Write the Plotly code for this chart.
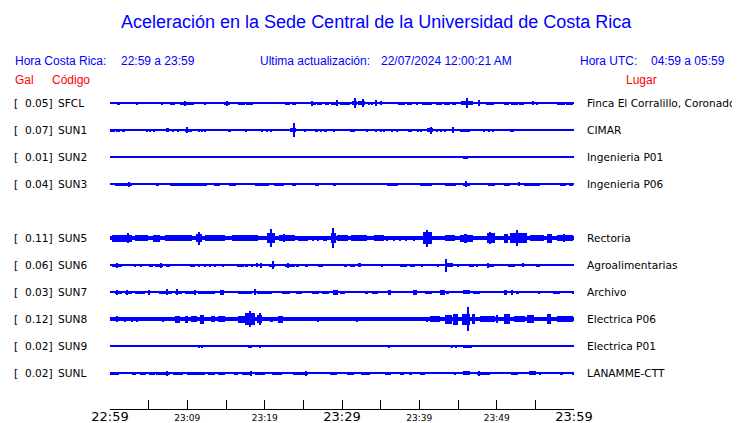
import plotly.graph_objects as go

# ---------------- data ----------------
CODES = ["SFCL", "SUN1", "SUN2", "SUN3", "SUN5", "SUN6", "SUN7", "SUN8", "SUN9", "SUNL"]
PEAK_GAL = ["0.05", "0.07", "0.01", "0.04", "0.11", "0.06", "0.03", "0.12", "0.02", "0.02"]
PLACES = ["Finca El Corralillo, Coronado", "CIMAR", "Ingenieria P01", "Ingenieria P06",
          "Rectoria", "Agroalimentarias", "Archivo", "Electrica P06", "Electrica P01", "LANAMME-CTT"]
SLOTS = [0, 1, 2, 3, 5, 6, 7, 8, 9, 10]
# background noise half-amplitude (relative units)
BACKGROUND = [0.6, 0.6, 0.6, 0.6, 2.3, 0.6, 0.6, 2.1, 0.6, 0.6]

# bursts: (start minute, end minute, half amplitude) read from the record
SFCL = [(0.9, 1.3, 1.5), (3.4, 3.5, 1.5), (4.3, 4.4, 1), (5.1, 5.2, 1), (6.6, 6.9, 1.5),
        (7.8, 8.4, 1.5), (8.6, 9.0, 1), (9.1, 10.8, 1.5), (9.6, 9.8, 2.5), (12.2, 12.4, 1.5),
        (14.8, 15.5, 1.5), (15.0, 15.2, 2.5), (16.0, 16.1, 1), (16.6, 17.4, 1.5), (17.6, 18.5, 1.5),
        (19.2, 19.3, 1.2), (19.8, 19.9, 1.2), (20.5, 20.6, 1), (22.6, 23.3, 1.5), (23.5, 24.1, 1.5),
        (25.0, 25.1, 1), (26.0, 26.6, 1.5), (26.8, 27.4, 1.5), (26.1, 26.2, 2.5), (27.8, 28.3, 1.5),
        (28.6, 29.5, 1.5), (29.3, 29.5, 3), (29.7, 31.0, 1.5), (31.3, 32.0, 2), (31.5, 31.8, 5),
        (32.1, 33.0, 2), (32.6, 32.8, 4), (33.4, 33.5, 1.5), (33.8, 33.9, 1.5), (34.3, 34.5, 3),
        (35.0, 35.2, 2), (35.8, 35.9, 1), (36.6, 36.7, 1), (37.3, 38.2, 1.5), (38.4, 39.0, 1.5),
        (39.6, 39.8, 1.5), (40.3, 41.6, 1.5), (42.2, 42.9, 1.5), (43.2, 44.0, 1.5), (44.2, 44.8, 1.5),
        (45.4, 47.0, 2), (46.0, 46.3, 5), (47.7, 47.9, 3), (48.6, 49.6, 1.5), (50.0, 50.1, 1),
        (50.9, 51.6, 1.5), (51.9, 52.7, 1.5), (52.9, 53.5, 1.5), (54.6, 54.8, 2), (55.2, 55.3, 1.5),
        (57.8, 58.8, 1.5), (59.0, 59.9, 1.5)]
SUN1 = [(0.0, 0.6, 1.5), (0.8, 1.3, 1.5), (1.6, 2.0, 1.5), (3.6, 3.7, 1), (4.7, 4.8, 1.5),
        (5.1, 5.2, 1.5), (5.7, 5.8, 1.5), (7.3, 7.6, 2), (8.1, 8.2, 1.5), (8.8, 8.9, 1.5),
        (9.7, 10.6, 1.5), (9.9, 10.0, 3), (11.4, 11.5, 1.5), (11.9, 12.0, 1.5), (12.2, 12.3, 1.5),
        (13.0, 13.1, 1), (13.6, 13.7, 1), (14.2, 14.3, 1), (15.3, 15.6, 1.5), (16.8, 16.9, 1),
        (17.5, 17.6, 1.5), (18.9, 19.0, 1), (19.6, 19.7, 1.5), (20.2, 20.3, 1.5), (20.8, 20.9, 1.5),
        (21.7, 21.8, 1), (22.4, 22.5, 1), (22.8, 22.9, 1), (23.3, 24.0, 2), (23.7, 23.8, 7),
        (24.5, 24.6, 1), (25.2, 25.3, 1.5), (25.9, 26.0, 1), (26.5, 26.9, 1.5), (27.2, 27.3, 1.5),
        (27.7, 28.0, 1.5), (28.9, 29.0, 1.5), (29.7, 30.2, 1), (31.0, 31.7, 1.5), (32.3, 32.4, 1),
        (33.2, 33.3, 1.5), (34.4, 34.5, 1.5), (35.0, 35.1, 1.5), (35.4, 35.5, 1.5), (36.4, 36.5, 1.5),
        (37.1, 37.3, 1.5), (38.6, 38.7, 1.5), (38.9, 39.0, 1.5), (39.8, 39.9, 1.5), (40.2, 40.3, 1.5),
        (41.0, 41.8, 2), (41.4, 41.6, 3.5), (42.2, 42.3, 1.5), (42.7, 42.8, 1.5), (43.3, 43.5, 1.5),
        (44.3, 44.4, 3), (45.3, 46.5, 1.5), (47.4, 47.5, 1), (48.3, 48.4, 1.5), (48.9, 49.0, 1.5),
        (49.5, 49.6, 1.5), (50.9, 51.0, 1), (51.7, 52.2, 1.5), (53.2, 53.3, 1), (55.4, 55.5, 1),
        (57.3, 57.4, 1), (59.5, 59.6, 1)]
SUN2 = [(45.7, 46.3, 1.5)]
SUN3 = [(0.0, 0.5, 1.2), (0.7, 2.8, 1.5), (2.4, 2.6, 2.5), (3.2, 3.3, 1.2), (3.8, 3.9, 1.2),
        (4.5, 4.6, 1.2), (5.2, 5.3, 1.2), (5.7, 5.8, 1.2), (6.0, 6.4, 1.5), (6.9, 7.0, 1),
        (7.4, 7.5, 1), (7.8, 12.5, 1.5), (13.5, 14.2, 1.5), (15.4, 16.3, 1.5), (17.5, 17.6, 1),
        (18.7, 20.5, 1.5), (21.2, 22.5, 1.5), (23.5, 24.0, 1.5), (25.3, 25.4, 1), (26.5, 27.0, 1.5),
        (28.9, 29.2, 1.5), (29.9, 30.0, 1), (30.4, 30.5, 1), (31.0, 31.1, 1), (31.5, 31.6, 1),
        (32.2, 32.3, 1), (34.3, 34.4, 1), (35.8, 37.3, 1.5), (40.1, 41.6, 1.5), (42.2, 42.3, 1),
        (43.3, 44.8, 1.5), (45.6, 46.5, 1.5), (46.0, 46.2, 3), (46.7, 47.8, 1.2), (48.9, 49.8, 1.5),
        (50.4, 50.5, 1), (50.9, 51.7, 1.5), (52.9, 53.0, 2), (53.5, 55.6, 1.5), (56.6, 56.7, 1),
        (58.2, 59.0, 1.5), (59.3, 59.9, 1.5)]
SUN5 = [(0.2, 2.8, 3.5), (2.3, 2.5, 5), (3.2, 4.9, 3), (5.6, 6.5, 3.5), (7.1, 10.6, 3),
        (11.1, 11.9, 4), (11.4, 11.6, 6.5), (12.3, 14.9, 3), (15.8, 19.2, 3), (20.3, 21.3, 5),
        (20.8, 21.0, 9), (21.8, 23.9, 3), (22.4, 22.6, 4), (24.3, 25.6, 2.5), (26.2, 26.4, 2.5),
        (26.8, 27.0, 2.5), (27.6, 28.1, 2.5), (28.6, 29.2, 5), (28.8, 28.9, 10), (29.4, 30.8, 3),
        (31.2, 33.2, 3), (34.1, 35.4, 3), (35.8, 36.0, 2.5), (36.6, 36.8, 2.5), (37.4, 37.6, 2.5),
        (38.2, 38.4, 2.5), (39.2, 39.5, 2.5), (40.5, 41.7, 6), (41.0, 41.1, 8.5), (41.8, 43.1, 2),
        (43.3, 44.6, 3), (45.2, 47.0, 3.5), (45.9, 46.1, 4.5), (48.7, 49.8, 5), (49.1, 49.2, 6),
        (50.9, 51.5, 4.5), (51.7, 53.9, 5), (52.6, 52.8, 8), (54.3, 56.1, 3), (56.5, 57.1, 4.5),
        (57.8, 59.9, 3), (58.6, 58.8, 4)]
SUN6 = [(0.2, 1.5, 1.5), (0.8, 0.9, 2.5), (3.2, 3.3, 1.5), (4.0, 4.2, 1.5), (5.0, 5.6, 1.5),
        (5.8, 6.9, 1.5), (6.6, 6.7, 2.5), (7.3, 7.8, 1.5), (8.2, 8.3, 1), (8.8, 8.9, 1),
        (9.4, 9.5, 1), (10.3, 11.0, 1.5), (11.4, 11.5, 1.5), (12.2, 12.4, 1.5), (12.9, 13.1, 1.5),
        (13.5, 13.7, 1.5), (14.6, 14.8, 1.5), (15.7, 15.8, 1), (16.4, 17.3, 1.5), (17.5, 17.9, 1.5),
        (18.3, 18.4, 1.5), (19.0, 19.1, 2), (19.5, 19.6, 2.5), (20.5, 21.3, 1.5), (21.0, 21.1, 4),
        (22.6, 23.9, 1.5), (23.0, 23.1, 2.5), (24.1, 24.4, 1.5), (25.2, 25.6, 1.5), (26.1, 26.2, 1),
        (26.9, 27.6, 1.5), (28.7, 28.8, 1), (30.2, 30.6, 1.5), (31.0, 31.7, 1.5), (32.1, 32.5, 2),
        (35.1, 35.2, 1.5), (36.2, 36.3, 1), (37.5, 38.4, 1.5), (38.8, 39.5, 1.5), (40.3, 40.4, 1.5),
        (41.0, 41.1, 1), (41.4, 41.5, 1), (42.3, 42.5, 1.5), (43.4, 43.5, 6.5), (43.5, 44.3, 2),
        (44.9, 45.0, 1.5), (46.0, 46.1, 1), (46.4, 47.1, 1.5), (47.4, 47.5, 1.5), (48.8, 48.9, 2.5),
        (48.9, 49.6, 1.5), (50.4, 50.5, 1), (51.5, 52.4, 1.5), (53.4, 53.5, 2), (55.1, 55.6, 1.5),
        (57.3, 57.4, 1)]
SUN7 = [(0.6, 1.5, 1.5), (0.9, 1.0, 2.5), (1.9, 2.8, 1.5), (2.1, 2.2, 2.5), (3.2, 4.5, 1.5),
        (5.0, 5.1, 2.5), (5.6, 5.7, 1), (6.3, 8.0, 1.5), (7.3, 7.4, 3), (8.4, 9.3, 1.5),
        (8.6, 8.7, 3), (9.7, 11.0, 1.5), (10.9, 11.0, 2.5), (11.4, 13.6, 1.5), (14.2, 14.7, 2.5),
        (16.6, 18.3, 1.5), (18.7, 18.8, 3), (19.0, 20.9, 1.5), (21.5, 21.6, 1), (22.2, 23.3, 1.5),
        (24.0, 24.8, 1.5), (25.3, 25.4, 1), (26.1, 27.0, 1.5), (27.4, 28.3, 1.5), (28.9, 29.5, 2.5),
        (29.7, 30.4, 1.5), (31.7, 31.8, 1), (33.0, 33.4, 1.5), (33.9, 34.7, 1.5), (36.0, 36.4, 2.5),
        (37.3, 37.7, 1), (39.2, 39.7, 2.5), (40.7, 41.6, 1.5), (42.7, 43.3, 2.5), (43.4, 43.9, 1.5),
        (44.6, 44.7, 1), (45.7, 46.5, 2), (47.0, 47.8, 1.5), (48.9, 49.0, 1), (50.0, 50.1, 1),
        (50.9, 51.3, 2.5), (51.9, 52.0, 2.5), (52.5, 52.9, 1.5), (53.9, 54.0, 1), (55.4, 55.5, 1.5),
        (56.5, 56.6, 1), (57.3, 58.2, 1.5), (59.8, 59.9, 1.5)]
SUN8 = [(0.8, 0.9, 3), (1.9, 2.0, 2.5), (2.8, 2.9, 2.5), (3.4, 3.5, 2.5), (6.8, 6.9, 2.5),
        (8.4, 9.1, 3.5), (9.7, 10.1, 3.5), (10.5, 11.2, 3), (11.6, 12.2, 4.5), (13.0, 13.6, 3),
        (14.0, 14.9, 3), (16.6, 17.5, 3.5), (17.5, 18.8, 6), (18.0, 18.2, 8), (19.0, 19.6, 4),
        (19.4, 19.5, 6), (20.7, 21.1, 2.5), (21.7, 22.4, 3.5), (26.8, 26.9, 2.5), (31.9, 32.0, 2.5),
        (36.0, 36.1, 2), (37.3, 37.4, 1.5), (40.4, 40.5, 2), (40.9, 41.0, 2.5), (41.4, 42.7, 3),
        (43.3, 44.2, 4.5), (44.4, 45.0, 5.5), (45.5, 46.5, 5.5), (46.2, 46.3, 12), (46.8, 47.2, 5),
        (47.8, 49.8, 3), (49.9, 50.2, 4), (50.9, 51.7, 5), (52.2, 53.7, 3), (53.9, 54.8, 4),
        (56.5, 57.0, 5), (57.8, 59.9, 3)]
SUN9 = [(10.0, 10.1, 1), (10.4, 10.5, 1), (10.9, 11.0, 1), (11.4, 11.5, 1.5), (11.8, 11.9, 1.5),
        (17.8, 18.3, 1.5), (19.4, 19.5, 1.5), (22.2, 22.3, 1), (23.7, 23.8, 1), (32.3, 32.4, 1),
        (36.0, 36.1, 1.5), (40.7, 40.8, 1), (41.6, 41.7, 1), (44.2, 44.3, 1.5), (44.7, 44.8, 1.5),
        (45.6, 46.8, 1.5), (49.4, 49.5, 1), (51.5, 51.6, 1), (54.8, 54.9, 1), (56.6, 56.7, 1)]
SUNL = [(0.0, 1.1, 1.5), (1.7, 1.8, 1), (2.2, 2.3, 1), (2.8, 3.4, 1.5), (3.9, 4.7, 1.5),
        (5.0, 5.8, 1.5), (6.0, 7.8, 1.5), (7.3, 7.4, 2.5), (8.2, 9.5, 1.5), (9.9, 12.3, 1.5),
        (12.7, 13.6, 1.5), (14.0, 14.9, 1.5), (16.0, 16.6, 1.5), (17.1, 18.3, 1.5), (18.2, 18.3, 2.5),
        (18.7, 20.0, 1.5), (20.9, 22.2, 1.5), (23.6, 25.6, 1.5), (25.3, 25.4, 2.5), (26.5, 26.6, 1),
        (27.3, 27.4, 1), (28.4, 29.3, 1.5), (30.6, 31.5, 1.5), (32.5, 33.6, 1.5), (34.3, 34.4, 1),
        (35.5, 36.4, 1.5), (37.5, 38.0, 1.5), (38.6, 39.0, 1.5), (40.1, 40.7, 1.5), (41.6, 41.7, 1),
        (42.7, 42.8, 1), (44.6, 44.7, 1.5), (45.6, 46.5, 2), (47.4, 49.2, 1.5), (47.7, 47.8, 2.5),
        (50.2, 50.3, 1), (51.9, 52.8, 1.5), (54.2, 55.1, 2), (55.6, 55.7, 1.5), (56.7, 56.8, 1),
        (58.2, 58.6, 1.5), (59.7, 60.0, 1.5)]
BURSTS = [SFCL, SUN1, SUN2, SUN3, SUN5, SUN6, SUN7, SUN8, SUN9, SUNL]

TICK_MINUTES = list(range(0, 61, 5))
TICK_LABELS = ["22:59", "", "23:09", "", "23:19", "", "23:29", "", "23:39", "", "23:49", "", "23:59"]
MAJOR_LABELS = ["22:59", "23:29", "23:59"]

TITLE = "Aceleración en la Sede Central de la Universidad de Costa Rica"

# ---------------- figure ----------------
# the page body has an 8 px margin, so the figure is drawn 8 px smaller and offset
OFF = 8
W, H = 740 - OFF, 423 - OFF
BLUE = "#0000ff"
ROW_PX = 27.0
FIRST_ROW_PX = 103.0
AXIS_PX = 409.0
X0_PX, X1_PX = 110.0, 574.0
LABEL_SIZE = 10.6

fig = go.Figure()

for code, slot, bg, bursts in zip(CODES, SLOTS, BACKGROUND, BURSTS):
    # background trace (continuous record)
    fig.add_trace(go.Bar(x=[30], y=[2 * bg / ROW_PX], base=[slot - bg / ROW_PX],
                         width=[60], marker=dict(color=BLUE, line=dict(width=0)),
                         hoverinfo="skip", showlegend=False))
    xs, ys, bases, widths = [], [], [], []
    for s, e, a in bursts:
        w = max(e - s, 0.13)
        xs.append((s + e) / 2)
        widths.append(w)
        ys.append(2 * a / ROW_PX)
        bases.append(slot - a / ROW_PX)
    fig.add_trace(go.Bar(x=xs, y=ys, base=bases, width=widths,
                         marker=dict(color=BLUE, line=dict(width=0)),
                         hoverinfo="skip", showlegend=False, name=code))

ticktext = []
for lab in TICK_LABELS:
    if lab in MAJOR_LABELS:
        ticktext.append("<span style='font-size:13px'>" + lab + "</span>")
    else:
        ticktext.append(lab)

y_top = (OFF - FIRST_ROW_PX) / ROW_PX
y_bot = (AXIS_PX - FIRST_ROW_PX) / ROW_PX

fig.update_layout(
    width=W, height=H,
    margin=dict(l=0, r=0, t=0, b=0, pad=0, autoexpand=False),
    paper_bgcolor="white", plot_bgcolor="white",
    barmode="overlay", bargap=0,
    xaxis=dict(domain=[(X0_PX - OFF) / W, (X1_PX - OFF) / W], range=[0, 60], showgrid=False,
               zeroline=False, showline=True, linecolor="black", linewidth=1, automargin=False,
               ticks="inside", ticklen=9, tickcolor="black", tickwidth=1,
               tickmode="array", tickvals=TICK_MINUTES, ticktext=ticktext,
               tickfont=dict(family="DejaVu Sans", size=9, color="black"),
               ticklabelstandoff=0, fixedrange=True),
    yaxis=dict(domain=[1 - (AXIS_PX - OFF) / H, 1], range=[y_bot, y_top], showgrid=False,
               zeroline=False, showticklabels=False, showline=False, automargin=False,
               fixedrange=True),
)


def px(x):
    return (x - OFF) / W


def py(y):
    return 1 - (y - OFF) / H


ann = []


def add_text(x, y, text, size, color, family, anchor="left"):
    ann.append(dict(x=px(x), y=py(y), xref="paper", yref="paper", text=text, showarrow=False,
                    xanchor=anchor, yanchor="middle", borderpad=0,
                    font=dict(size=size, color=color, family=family)))


add_text(376, 22, TITLE, 18, BLUE, "Liberation Sans", "center")
add_text(14, 61, "Hora Costa Rica:", 12, BLUE, "Liberation Sans")
add_text(120, 61, "22:59 a 23:59", 12, BLUE, "Liberation Sans")
add_text(259, 61, "Ultima actualización:", 12, BLUE, "Liberation Sans")
add_text(380, 61, "22/07/2024 12:00:21 AM", 12, BLUE, "Liberation Sans")
add_text(579, 61, "Hora UTC:", 12, BLUE, "Liberation Sans")
add_text(650, 61, "04:59 a 05:59", 12, BLUE, "Liberation Sans")
add_text(14, 80, "Gal", 12, "#ff0000", "Liberation Sans")
add_text(51, 80, "Código", 12, "#ff0000", "Liberation Sans")
add_text(625, 80, "Lugar", 12, "#ff0000", "Liberation Sans")

for code, peak, place, slot in zip(CODES, PEAK_GAL, PLACES, SLOTS):
    yc = FIRST_ROW_PX + slot * ROW_PX
    add_text(13, yc, "[", LABEL_SIZE, "black", "DejaVu Sans")
    add_text(54, yc, peak + "]", LABEL_SIZE, "black", "DejaVu Sans", "right")
    add_text(57, yc, code, LABEL_SIZE, "black", "DejaVu Sans")
    add_text(586, yc, place, LABEL_SIZE, "black", "DejaVu Sans")

fig.update_layout(annotations=ann)
fig.write_html("out.html")
